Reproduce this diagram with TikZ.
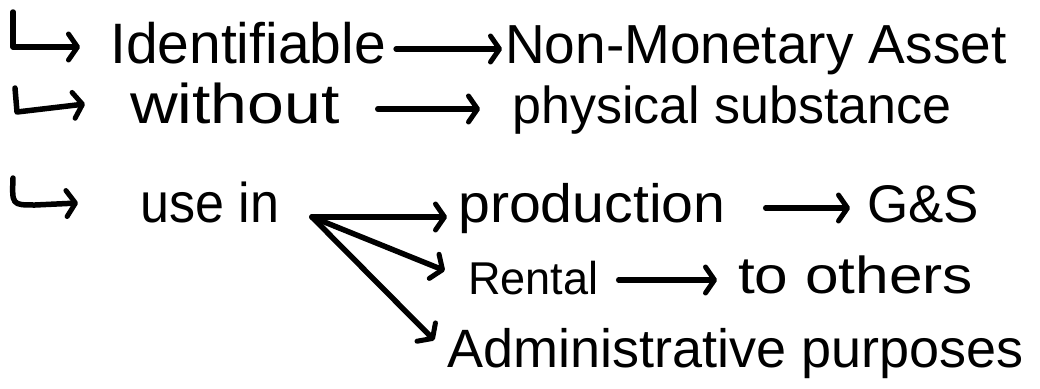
\documentclass[tikz,border=0pt]{standalone}
\usepackage{fontspec}
\setmainfont{Liberation Sans}
\usetikzlibrary{arrows.meta}
\newcommand{\fsz}[1]{\fontsize{#1}{#1}\selectfont}
\tikzset{
  txt/.style={anchor=base west, inner sep=0pt, text height=40pt, text depth=12pt},
  arr/.style={line width=5.5pt, line cap=round, line join=round,
    -{Straight Barb[length=9pt,width=26pt,line width=5pt,round]}},
  hook/.style={arr}
}
\begin{document}
\begin{tikzpicture}[x=1pt,y=-1pt]
\useasboundingbox[fill=white] (0,0) rectangle (1040,388);
% row 1
\node[txt, font=\fsz{57}] (ident) at (110,63) {Identifiable};
\node[txt, font=\fsz{55}] (nonmon) at (505,63) {Non-Monetary Asset};
\coordinate (h1) at (13,12);
\draw[hook] (h1) -- ++(0,35) -- ++(67,0);
\draw[arr, shorten <=10pt, shorten >=3pt] (ident.east) -- (ident.east -| nonmon.west);
% row 2
\node[txt, font=\fsz{56}] (without) at (130,123) {\scalebox{1.18}[1]{without}};
\node[txt, font=\fsz{52}] (phys) at (512,123) {physical substance};
\coordinate (h2) at (15,88);
\draw[hook] (h2) -- (17,112) -- (85,104);
\draw[arr, shorten <=38pt, shorten >=32pt] (without.east) -- (without.east -| phys.west);
% row 3
\node[txt, font=\fsz{56}] (usein) at (140,222) {\scalebox{0.93}[1]{use in}};
\coordinate (h3) at (13,178);
\draw[hook] (h3) .. controls (12,205) .. (35,205) -- (78,203);
\coordinate (fork) at (312,217);
\node[txt, font=\fsz{54}] (prod) at (458,222) {\scalebox{1.06}[1]{production}};
\node[txt, font=\fsz{53}] (gs) at (867,222) {G\&S};
\node[txt, font=\fsz{46}] (rental) at (468,294) {\scalebox{0.98}[1]{Rental}};
\node[txt, font=\fsz{52}] (others) at (738,293) {\scalebox{1.16}[1]{to others}};
\node[txt, font=\fsz{54}] (admin) at (447,367) {Administrative purposes};
\draw[arr, shorten >=11pt] (fork) -- (fork -| prod.west);
\draw[arr, shorten >=25pt] (fork) -- (rental.west);
\draw[arr, shorten >=18pt] (fork) -- (admin.west);
\draw[arr, shorten <=40pt, shorten >=17pt] (prod.east) -- (prod.east -| gs.west);
\draw[arr, shorten <=20pt, shorten >=21pt] (rental.east) -- (rental.east -| others.west);
\end{tikzpicture}
\end{document}
